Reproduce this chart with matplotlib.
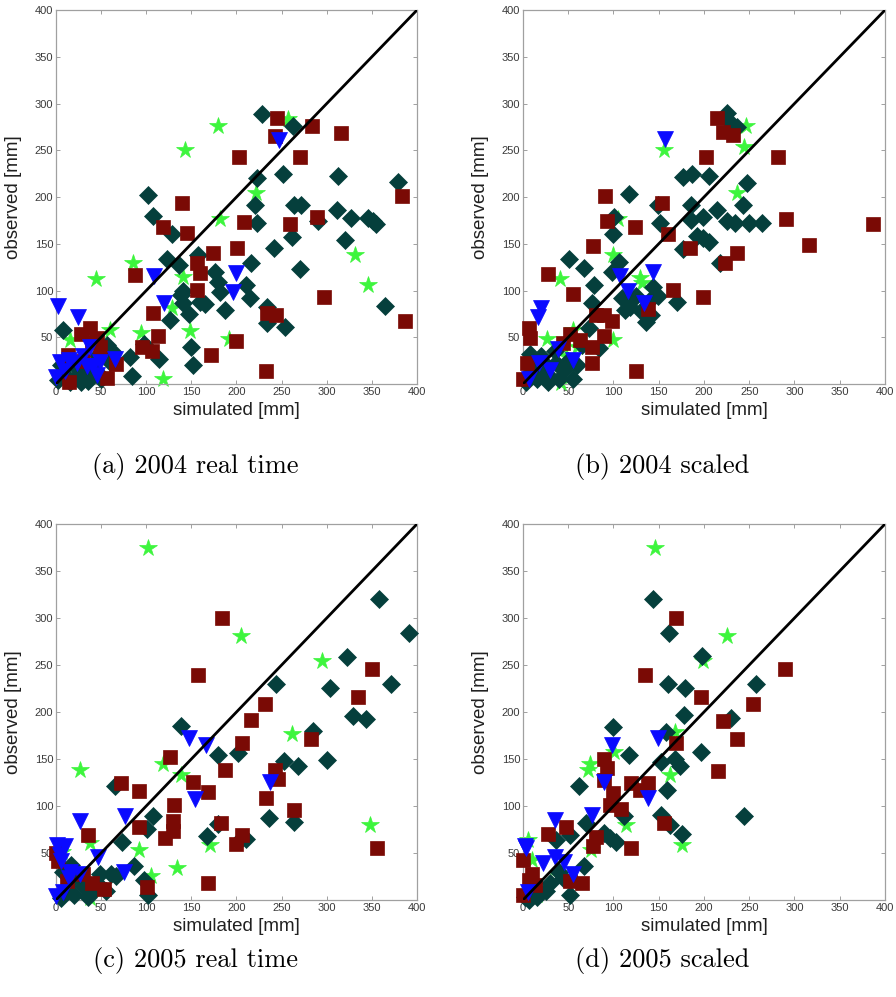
import matplotlib.pyplot as plt

# (a) 2004 real time
a_dia_sim = [228, 263, 251, 223, 220, 223, 241, 216, 262, 264, 271, 270, 290, 313, 311, 320, 327, 346, 351, 355,
             379, 365, 102, 108, 129, 123, 136, 157, 176, 180, 182, 187, 211, 215, 234, 234, 254, 141, 141, 147,
             165, 160, 126, 139, 150, 152, 114, 84, 82, 97, 8, 56, 47, 60, 45, 30, 15, 2, 10, 20, 25, 35, 5, 40,
             50, 18, 28, 62]
a_dia_obs = [289, 276, 225, 220, 191, 172, 145, 130, 157, 192, 192, 123, 174, 223, 186, 154, 178, 178, 174, 171,
             216, 84, 202, 180, 161, 134, 127, 138, 120, 109, 98, 79, 106, 92, 82, 65, 61, 100, 87, 75,
             86, 88, 68, 95, 40, 20, 27, 9, 29, 43, 58, 42, 31, 24, 13, 8, 2, 4, 10, 5, 15, 3, 20, 20,
             5, 25, 2, 35]
a_sq_sim = [245, 243, 284, 316, 203, 270, 383, 140, 145, 119, 208, 259, 289, 174, 201, 156, 160, 156, 87, 297,
            387, 107, 113, 95, 106, 172, 199, 234, 244, 233, 57, 67, 38, 28, 13, 45, 49, 14, 30, 40]
a_sq_obs = [285, 265, 276, 269, 243, 243, 201, 194, 162, 168, 173, 171, 179, 140, 146, 129, 119, 101, 117, 93,
            67, 76, 51, 40, 35, 31, 46, 76, 74, 14, 6, 21, 60, 54, 31, 49, 40, 2, 25, 45]
a_star_sim = [179, 257, 143, 222, 182, 85, 44, 141, 331, 346, 129, 148, 94, 60, 15, 192, 119, 37, 20, 8]
a_star_obs = [276, 283, 250, 204, 177, 129, 112, 115, 138, 106, 81, 57, 55, 58, 47, 48, 5, 12, 20, 6]
a_tri_sim = [247, 199, 196, 109, 120, 2, 24, 65, 38, 34, 41, 4, 14, 23, 0, 30, 49, 10, 45]
a_tri_obs = [261, 119, 98, 116, 87, 83, 72, 27, 40, 19, 19, 24, 26, 22, 8, 30, 24, 14, 10]

# (b) 2004 scaled
b_dia_sim = [225, 236, 229, 177, 187, 205, 248, 243, 117, 149, 151, 186, 199, 186, 214, 225, 234, 250, 264, 199,
             205, 192, 177, 218, 101, 100, 51, 67, 79, 76, 106, 98, 109, 113, 125, 144, 149, 136, 142, 170,
             73, 84, 140, 118, 130, 60, 45, 30, 20, 10, 5, 15, 25, 35, 40, 50, 3, 12, 28, 8, 36, 55, 65, 22]
b_dia_obs = [290, 275, 280, 221, 225, 222, 215, 191, 203, 191, 172, 192, 179, 175, 186, 174, 172, 172, 172, 156,
             152, 158, 144, 130, 179, 161, 134, 124, 106, 87, 131, 120, 92, 79, 94, 104, 94, 66, 74, 88,
             60, 39, 90, 82, 78, 20, 15, 8, 30, 25, 10, 5, 20, 35, 5, 25, 2, 15, 2, 32, 22, 5, 42, 12]
b_sq_sim = [214, 221, 232, 202, 282, 387, 291, 316, 91, 154, 93, 124, 160, 77, 184, 237, 223, 28, 55, 199,
            166, 125, 89, 81, 98, 89, 76, 76, 63, 52, 44, 7, 8, 4, 0, 138]
b_sq_obs = [285, 270, 266, 243, 243, 171, 177, 149, 201, 194, 174, 168, 161, 148, 145, 140, 129, 118, 96, 93,
            101, 14, 74, 74, 67, 51, 40, 22, 47, 53, 44, 60, 49, 22, 5, 80]
b_star_sim = [246, 244, 156, 237, 105, 100, 41, 129, 131, 100, 27, 55, 42, 60, 20, 48]
b_star_obs = [276, 254, 250, 204, 177, 138, 112, 113, 108, 47, 48, 58, 1, 40, 5, 30]
b_tri_sim = [157, 144, 107, 116, 134, 20, 17, 18, 55, 39, 7, 30]
b_tri_obs = [262, 120, 116, 100, 87, 81, 72, 22, 26, 37, 5, 15]

# (c) 2005 real time
c_dia_sim = [358, 391, 322, 304, 371, 244, 329, 343, 139, 285, 300, 253, 268, 180, 202, 65, 108, 101, 236, 264,
             180, 167, 204, 210, 73, 86, 61, 49, 67, 97, 102, 17, 10, 20, 30, 5, 40, 25, 35, 15, 45, 55, 8]
c_dia_obs = [320, 284, 259, 226, 230, 230, 196, 193, 185, 180, 149, 148, 143, 154, 156, 121, 89, 75, 87, 83,
             81, 68, 64, 65, 62, 36, 28, 28, 25, 21, 5, 37, 10, 5, 15, 2, 8, 25, 3, 20, 18, 10, 30]
c_sq_sim = [184, 157, 350, 335, 232, 216, 206, 282, 126, 187, 243, 246, 72, 92, 152, 168, 233, 131, 264, 130,
            130, 121, 183, 206, 200, 92, 35, 356, 168, 0, 2, 40, 53, 30, 12, 101]
c_sq_obs = [300, 239, 246, 216, 208, 191, 167, 171, 152, 138, 138, 129, 125, 116, 126, 115, 109, 101, 96, 84,
            73, 66, 82, 69, 60, 78, 69, 55, 18, 50, 42, 18, 12, 28, 20, 14]
c_star_sim = [102, 205, 295, 261, 119, 27, 139, 348, 38, 92, 171, 134, 105, 7, 38]
c_star_obs = [374, 281, 254, 177, 145, 138, 133, 80, 61, 53, 59, 34, 25, 51, 2]
c_tri_sim = [147, 166, 237, 154, 27, 77, 47, 75, 10, 1, 4, 14, 16, 6, 27, 0, 8]
c_tri_obs = [172, 165, 126, 107, 84, 89, 46, 30, 57, 58, 48, 23, 30, 41, 28, 4, 8]

# (d) 2005 scaled
d_dia_sim = [144, 161, 198, 160, 179, 257, 178, 230, 100, 158, 117, 153, 168, 173, 197, 62, 159, 152, 162, 176,
             244, 112, 90, 96, 103, 70, 52, 37, 67, 52, 44, 30, 18, 7, 2, 12, 25, 40, 15]
d_dia_obs = [320, 284, 260, 230, 226, 230, 197, 194, 184, 179, 154, 147, 150, 143, 157, 121, 117, 90, 80, 70,
             89, 89, 71, 66, 62, 82, 69, 64, 36, 5, 23, 18, 9, 0, 3, 15, 10, 30, 3]
d_sq_sim = [169, 135, 289, 197, 254, 221, 236, 216, 169, 90, 93, 89, 119, 138, 129, 100, 96, 108, 156, 81,
            77, 119, 48, 28, 0, 7, 13, 52, 65, 0, 10]
d_sq_obs = [300, 239, 246, 216, 208, 190, 171, 137, 167, 150, 140, 128, 125, 125, 117, 114, 101, 97, 82, 67,
            57, 55, 78, 70, 43, 21, 16, 20, 18, 5, 28]
d_star_sim = [146, 225, 199, 168, 101, 74, 72, 162, 114, 75, 176, 10, 6, 40, 15]
d_star_obs = [374, 281, 254, 179, 157, 145, 138, 133, 80, 53, 59, 43, 64, 25, 5]
d_tri_sim = [149, 98, 90, 138, 35, 76, 2, 35, 22, 55, 6, 3, 45]
d_tri_obs = [172, 165, 126, 108, 85, 90, 57, 46, 39, 28, 9, 55, 40]

panels = [
    ("(a) 2004 real time", [0.0625, 0.6148, 0.4029, 0.3751], (0.218, 0.5316),
     a_dia_sim, a_dia_obs, a_sq_sim, a_sq_obs, a_star_sim, a_star_obs, a_tri_sim, a_tri_obs),
    ("(b) 2004 scaled", [0.5837, 0.6148, 0.4040, 0.3751], (0.739, 0.5316),
     b_dia_sim, b_dia_obs, b_sq_sim, b_sq_obs, b_star_sim, b_star_obs, b_tri_sim, b_tri_obs),
    ("(c) 2005 real time", [0.0625, 0.0973, 0.4029, 0.3771], (0.218, 0.037),
     c_dia_sim, c_dia_obs, c_sq_sim, c_sq_obs, c_star_sim, c_star_obs, c_tri_sim, c_tri_obs),
    ("(d) 2005 scaled", [0.5837, 0.0973, 0.4040, 0.3771], (0.739, 0.037),
     d_dia_sim, d_dia_obs, d_sq_sim, d_sq_obs, d_star_sim, d_star_obs, d_tri_sim, d_tri_obs),
]

teal = '#053f3c'
darkred = '#7a0a05'
green = '#3df53d'
blue = '#0a0aff'

fig = plt.figure(figsize=(8.96, 9.97), dpi=100)

for caption, rect, cpos, ds, do, ss, so, sts, sto, ts, to in panels:
    ax = fig.add_axes(rect)
    ax.plot(sts, sto, linestyle='none', marker='*', markersize=13, color=green,
            markeredgecolor=green, markeredgewidth=0.5, clip_on=False, zorder=2)
    ax.plot(ds, do, linestyle='none', marker='D', markersize=9.5, color=teal,
            markeredgecolor=teal, markeredgewidth=0.5, clip_on=False, zorder=3)
    ax.plot(ss, so, linestyle='none', marker='s', markersize=10, color=darkred,
            markeredgecolor=darkred, markeredgewidth=0.5, clip_on=False, zorder=4)
    ax.plot(ts, to, linestyle='none', marker='v', markersize=11.5, color=blue,
            markeredgecolor=blue, markeredgewidth=0.5, clip_on=False, zorder=5)
    ax.plot([0, 400], [0, 400], color='black', linewidth=2, zorder=6)

    ax.set_xlim(0, 400)
    ax.set_ylim(0, 400)
    ax.set_xticks(range(0, 401, 50))
    ax.set_yticks(range(50, 401, 50))
    ax.tick_params(direction='in', length=3, width=0.6, color='#909090',
                   labelsize=8, labelcolor='#3a3a3a', top=True, right=True, pad=2)
    for lab in ax.get_xticklabels() + ax.get_yticklabels():
        lab.set_family('Liberation Sans')
    for sp in ax.spines.values():
        sp.set_color('#a0a0a0')
        sp.set_linewidth(0.9)
    ax.set_xlabel('simulated [mm]', fontsize=13.5, family='Liberation Sans',
                  color='#202020', labelpad=4)
    ax.set_ylabel('observed [mm]', fontsize=13.5, family='Liberation Sans',
                  color='#202020', labelpad=9)
    # caption under each panel
    fig.text(cpos[0], cpos[1], caption, ha='center', va='center', fontsize=19, family='cmr10')

fig.savefig('out.png', dpi=100, facecolor='white')
